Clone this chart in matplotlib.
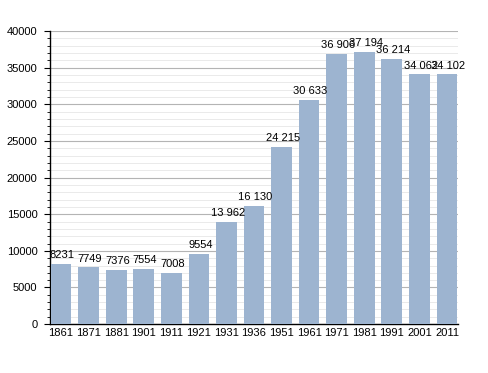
import matplotlib
matplotlib.use('Agg')
import matplotlib.pyplot as plt
from matplotlib.ticker import MultipleLocator

plt.rcParams['font.family'] = ['Liberation Sans', 'DejaVu Sans']

years = ['1861', '1871', '1881', '1901', '1911', '1921', '1931', '1936',
         '1951', '1961', '1971', '1981', '1991', '2001', '2011']
population = [8231, 7749, 7376, 7554, 7008, 9554, 13962, 16130,
              24215, 30633, 36906, 37194, 36214, 34062, 34102]


def fmt(v):
    # numbers >= 10000 get a space as thousands separator
    if v >= 10000:
        return f"{v:,}".replace(',', ' ')
    return str(v)


fig = plt.figure(figsize=(4.88, 3.73), dpi=100)
ax = fig.add_axes([0.1025, 0.131, 0.836, 0.786])

x = range(len(years))
ax.bar(x, population, width=0.75, color='#9db4d0', zorder=3)

for i, v in enumerate(population):
    ax.text(i + 0.05, v + 500, fmt(v), ha='center', va='bottom', fontsize=8, zorder=4)

ax.set_xlim(-0.4, len(years) - 0.6)
ax.set_ylim(0, 40000)
ax.set_xticks(list(x))
ax.set_xticklabels(years, fontsize=8)
ax.yaxis.set_major_locator(MultipleLocator(5000))
ax.yaxis.set_minor_locator(MultipleLocator(1000))
ax.tick_params(axis='y', which='major', labelsize=8, length=4, width=0.8, pad=5)
ax.tick_params(axis='y', which='minor', length=2, width=0.6)
ax.tick_params(axis='x', length=0, pad=3)

ax.grid(axis='y', which='major', color='#b4b4b4', linewidth=0.8, zorder=1)
ax.grid(axis='y', which='minor', color='#e6e6e6', linewidth=0.6, zorder=0)

for s in ['top', 'right']:
    ax.spines[s].set_visible(False)
ax.spines['left'].set_linewidth(1.0)
ax.spines['bottom'].set_linewidth(1.0)

plt.savefig('out.png', dpi=100)
